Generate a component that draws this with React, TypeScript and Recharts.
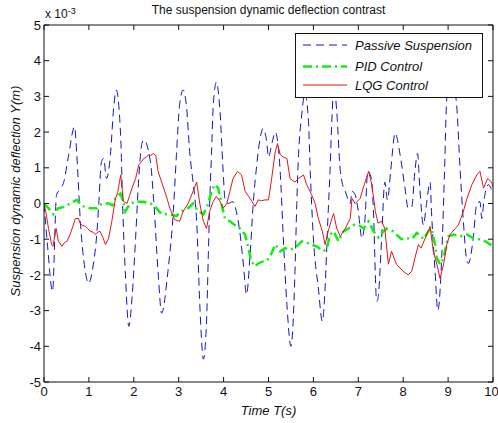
import React from 'react';
import { LineChart, Line, XAxis, YAxis, Legend } from 'recharts';

// values are in units of 1e-3 m, [time s, deflection]
const passive: [number, number][] = [
  [0, 0], [0.08, -1.2], [0.19, -2.46], [0.28, 0.25], [0.36, 0.4], [0.44, 0.6], [0.55, 1.37], [0.68, 2.15],
  [0.73, 1.37], [0.81, -0.5], [0.92, -1.9], [0.99, -2.24], [1.1, -1.7], [1.18, -0.78], [1.22, 0], [1.28, 1.17],
  [1.33, 1.26], [1.39, 0.7], [1.48, 1.37], [1.55, 2.65], [1.61, 3.18], [1.71, 1.8], [1.75, 0], [1.81, -1.9],
  [1.89, -3.44], [1.96, -2.65], [2.04, -0.97], [2.11, 0.7], [2.18, 1.68], [2.22, 1.78], [2.37, 1.17], [2.44, 0.14],
  [2.54, -1.9], [2.62, -3.07], [2.76, -1.9], [2.88, -0.22], [2.95, 1.37], [3.02, 2.76], [3.1, 3.18], [3.17, 2.76],
  [3.25, 1.37], [3.32, 0.6], [3.36, 0.15], [3.4, -0.5], [3.47, -2.83], [3.55, -4.36], [3.62, -3.3], [3.66, -1.43],
  [3.69, 0], [3.73, 1.37], [3.77, 2.76], [3.84, 3.4], [3.92, 2.57], [3.99, 0.9], [4.03, 0.14], [4.1, 0],
  [4.21, 0.05], [4.28, -0.2], [4.36, -0.78], [4.44, -1.7], [4.51, -2.55], [4.59, -1.43], [4.66, 0], [4.74, 1.1],
  [4.81, 1.8], [4.88, 2.1], [4.96, 1.73], [5.0, 1.3], [5.08, 1.7], [5.15, 2.0], [5.26, 0.9], [5.33, -0.97],
  [5.41, -2.83], [5.5, -4.0], [5.59, -1.9], [5.63, 0], [5.67, 1.37], [5.74, 2.48], [5.81, 3.1], [5.89, 2.3],
  [5.93, 0.9], [6.0, -0.97], [6.11, -2.37], [6.2, -3.3], [6.26, -2.37], [6.32, -0.5], [6.37, 0.9], [6.41, 2.3],
  [6.46, 3.3], [6.52, 2.57], [6.6, 0.9], [6.65, 0.53], [6.71, 0.34], [6.82, 0], [6.86, 0.34], [6.93, 0.25],
  [7.0, -0.22], [7.08, -0.97], [7.15, -0.42], [7.21, 0.9], [7.29, 0.7], [7.33, 0], [7.41, -2.74], [7.44, -2.65],
  [7.52, -0.97], [7.59, 0.6], [7.65, 0.1], [7.72, 0.9], [7.82, 1.97], [7.93, 1.37], [8.04, 0.43], [8.11, -0.13],
  [8.19, -0.1], [8.26, 0.9], [8.32, 1.4], [8.37, 0.43], [8.45, -0.6], [8.52, 0], [8.6, 0.6], [8.63, -0.22],
  [8.71, -1.9], [8.77, -3.0], [8.86, -1.43], [8.92, 0.9], [8.97, 2.93], [9.05, 3.5], [9.12, 3.3], [9.19, 2.76],
  [9.27, 0.9], [9.34, -0.5], [9.42, -1.62], [9.45, -1.68], [9.56, -0.97], [9.64, 0], [9.71, 0.05], [9.75, -0.42],
  [9.8, 0.1], [9.9, 0.53], [10, 0.25],
];

const pid: [number, number][] = [
  [0, 0], [0.1, -0.13], [0.21, -0.3], [0.32, -0.13], [0.44, -0.1], [0.58, 0], [0.73, 0.1], [0.8, 0],
  [0.88, -0.08], [1.03, -0.13], [1.18, -0.13], [1.29, 0], [1.44, 0], [1.52, -0.05], [1.59, 0.14], [1.7, 0.28],
  [1.77, 0.05], [1.81, -0.22], [1.92, 0], [2.04, 0.05], [2.22, 0.05], [2.37, 0], [2.47, -0.08], [2.62, -0.3],
  [2.8, -0.3], [2.95, -0.35], [3.06, -0.22], [3.21, -0.13], [3.32, 0], [3.43, -0.22], [3.55, -0.3], [3.66, 0],
  [3.73, 0.34], [3.8, 0.53], [3.88, 0.43], [3.95, 0], [4.03, -0.42], [4.14, -0.5], [4.25, -0.6], [4.36, -0.7],
  [4.48, -0.87], [4.55, -1.25], [4.62, -1.62], [4.7, -1.76], [4.77, -1.68], [4.88, -1.62], [4.96, -1.6], [5.03, -1.5],
  [5.15, -1.15], [5.26, -1.34], [5.37, -1.25], [5.48, -1.3], [5.63, -1.2], [5.74, -1.06], [5.85, -1.1], [5.96, -1.15],
  [6.07, -1.2], [6.22, -1.34], [6.3, -1.25], [6.37, -0.87], [6.45, -0.78], [6.56, -1.06], [6.67, -0.78], [6.78, -0.7],
  [6.89, -0.6], [7.0, -0.6], [7.12, -0.7], [7.23, -0.5], [7.34, -0.78], [7.45, -0.95], [7.56, -0.78], [7.63, -0.7],
  [7.78, -0.78], [7.85, -0.87], [7.96, -1.0], [8.08, -0.97], [8.19, -1.0], [8.3, -0.83], [8.37, -0.87], [8.45, -1.0],
  [8.56, -0.78], [8.63, -0.7], [8.71, -1.15], [8.75, -1.53], [8.82, -1.7], [8.9, -1.53], [8.93, -1.34], [9.01, -0.92],
  [9.12, -0.87], [9.27, -0.92], [9.42, -0.87], [9.56, -0.97], [9.71, -1.0], [9.83, -1.06], [9.94, -1.15], [10, -1.05],
];

const lqg: [number, number][] = [
  [0, 0], [0.05, -0.3], [0.1, -0.7], [0.17, -1.15], [0.2, -1.2], [0.24, -0.9], [0.27, -0.7], [0.32, -1.06],
  [0.4, -1.2], [0.45, -1.1], [0.51, -1.06], [0.58, -0.87], [0.64, -0.65], [0.7, -0.42], [0.77, -0.42], [0.8, -0.55],
  [0.84, -0.6], [0.92, -0.64], [0.97, -0.7], [1.03, -0.78], [1.09, -0.8], [1.14, -0.87], [1.2, -0.8], [1.25, -0.78],
  [1.31, -0.95], [1.37, -1.15], [1.44, -0.97], [1.51, -0.5], [1.59, 0.14], [1.64, 0.3], [1.68, 0.6], [1.71, 0.8],
  [1.74, 0.4], [1.77, 0.06], [1.85, 0], [1.9, 0.2], [1.96, 0.43], [2.04, 0.7], [2.11, 1.08], [2.16, 1.15],
  [2.22, 1.26], [2.28, 1.3], [2.33, 1.37], [2.38, 1.35], [2.44, 1.4], [2.49, 1.35], [2.54, 0.9], [2.62, 0.6],
  [2.69, 0.34], [2.75, 0.1], [2.8, -0.13], [2.86, -0.3], [2.91, -0.45], [3.02, -0.5], [3.1, -0.22], [3.21, 0],
  [3.32, 0.34], [3.4, 0.6], [3.47, 0], [3.55, -0.5], [3.62, -0.7], [3.69, -0.22], [3.77, 0.06], [3.84, 0.2],
  [3.92, 0.06], [3.99, -0.13], [4.07, 0], [4.14, 0.34], [4.21, 0.7], [4.31, 0.9], [4.4, 0.8], [4.48, 0.34],
  [4.59, 0.14], [4.7, -0.08], [4.77, 0.1], [4.85, 0.08], [4.92, 0.1], [5.0, 0.1], [5.07, 0.7], [5.15, 1.45],
  [5.2, 1.68], [5.26, 1.37], [5.33, 1.3], [5.41, 1.26], [5.48, 0.7], [5.59, 0.6], [5.67, 0.7], [5.78, 0.8],
  [5.85, 0.53], [5.96, 0.25], [6.04, 0], [6.11, -0.42], [6.2, -0.78], [6.26, -1.15], [6.33, -0.78], [6.41, -0.42],
  [6.45, -0.28], [6.52, -0.7], [6.6, -0.92], [6.71, -0.7], [6.82, -0.42], [6.86, 0.14], [6.93, 0], [7.04, 0.14],
  [7.15, 0.6], [7.23, 0.9], [7.3, 0.53], [7.38, -0.22], [7.44, -0.55], [7.52, -0.5], [7.59, -0.7], [7.67, -1.7],
  [7.74, -1.34], [7.85, -1.7], [8.0, -1.9], [8.11, -2.0], [8.19, -1.9], [8.26, -1.53], [8.34, -1.15], [8.4, -1.25],
  [8.49, -0.97], [8.6, -0.64], [8.67, -1.34], [8.75, -1.7], [8.82, -2.1], [8.9, -1.7], [8.97, -1.15], [9.04, -0.87],
  [9.16, -0.7], [9.23, -0.6], [9.34, -0.22], [9.42, 0.14], [9.53, 0.53], [9.64, 0.8], [9.71, 0.9], [9.79, 0.43],
  [9.88, 0.7], [9.97, 0.6], [10, 0.45],
];

const xTicks = [0, 1, 2, 3, 4, 5, 6, 7, 8, 9, 10];
const yTicks = [-5, -4, -3, -2, -1, 0, 1, 2, 3, 4, 5];

const FONT = '"Liberation Sans", Arial, Helvetica, sans-serif';
const AXIS = '#111';

const series = [
  { name: 'Passive Suspension', data: passive, color: '#1414c8', width: 1, dash: '8 5', curve: 'monotone' as const },
  { name: 'PID Control', data: pid, color: '#11ee11', width: 2.5, dash: '9 4 2 4', curve: 'linear' as const },
  { name: 'LQG Control', data: lqg, color: '#e01818', width: 1, dash: undefined, curve: 'linear' as const },
];

const toRows = (pts: [number, number][]) => pts.map(([t, y]) => ({ t, y }));

function LegendBox() {
  return (
    <div style={{ width: 188, height: 65, boxSizing: 'border-box', border: '1px solid #111', background: '#fff' }}>
      <svg width={186} height={63} style={{ display: 'block' }}>
        {series.map((s, i) => {
          const cy = [11, 32.5, 51][i];
          return (
            <g key={s.name}>
              <line x1={7} x2={51} y1={cy} y2={cy} stroke={s.color} strokeWidth={s.width} strokeDasharray={s.dash} />
              <text x={59} y={cy + 4.5} fontSize={13} fontStyle="italic" fontFamily={FONT} fill="#111">{s.name}</text>
            </g>
          );
        })}
      </svg>
    </div>
  );
}

export default function App() {
  const tickStyle = { fontSize: 13, fill: AXIS, fontFamily: FONT };
  return (
    <div style={{ position: 'absolute', left: 0, top: 0, width: 498, height: 423, background: '#fff' }}>
      <LineChart width={498} height={423} margin={{ top: 20, right: 0, bottom: 0, left: 0 }}>
        <XAxis
          xAxisId="bottom"
          dataKey="t"
          type="number"
          domain={[0, 10]}
          ticks={xTicks}
          height={41}
          tickSize={-5}
          tickMargin={10}
          stroke={AXIS}
          tick={tickStyle}
          allowDataOverflow
        />
        <XAxis
          xAxisId="top"
          orientation="top"
          dataKey="t"
          type="number"
          domain={[0, 10]}
          ticks={xTicks}
          height={5}
          tickSize={-5}
          tickFormatter={() => ''}
          stroke={AXIS}
          allowDataOverflow
        />
        <YAxis
          yAxisId="left"
          type="number"
          domain={[-5, 5]}
          ticks={yTicks}
          width={44}
          tickSize={-5}
          tickMargin={8}
          stroke={AXIS}
          tick={tickStyle}
          allowDataOverflow
        />
        <YAxis
          yAxisId="right"
          orientation="right"
          type="number"
          domain={[-5, 5]}
          ticks={yTicks}
          width={5}
          tickSize={-5}
          tickFormatter={() => ''}
          stroke={AXIS}
          allowDataOverflow
        />
        {series.map((s) => (
          <Line
            key={s.name}
            xAxisId="bottom"
            yAxisId="left"
            data={toRows(s.data)}
            dataKey="y"
            name={s.name}
            type={s.curve}
            stroke={s.color}
            strokeWidth={s.width}
            strokeDasharray={s.dash}
            dot={false}
            activeDot={false}
            isAnimationActive={false}
          />
        ))}
        <Legend
          layout="vertical"
          align="center"
          verticalAlign="middle"
          content={() => <LegendBox />}
          wrapperStyle={{ left: 295, top: 33, width: 188, height: 65 }}
        />
        <text x={268.5} y={14} textAnchor="middle" fontSize={12} fontFamily={FONT} fill={AXIS}>
          The suspension dynamic deflection contrast
        </text>
        <text x={45} y={18} fontSize={12} fontFamily={FONT} fill={AXIS}>
          x 10<tspan dy={-4} fontSize={9}>-3</tspan>
        </text>
        <text x={268.5} y={415} textAnchor="middle" fontSize={13} fontStyle="italic" fontFamily={FONT} fill={AXIS}>
          Time T(s)
        </text>
        <text transform="translate(19.5,191) rotate(-90)" textAnchor="middle" fontSize={13} fontStyle="italic" fontFamily={FONT} fill={AXIS}>
          Suspension dynamic deflection Y(m)
        </text>
      </LineChart>
    </div>
  );
}
